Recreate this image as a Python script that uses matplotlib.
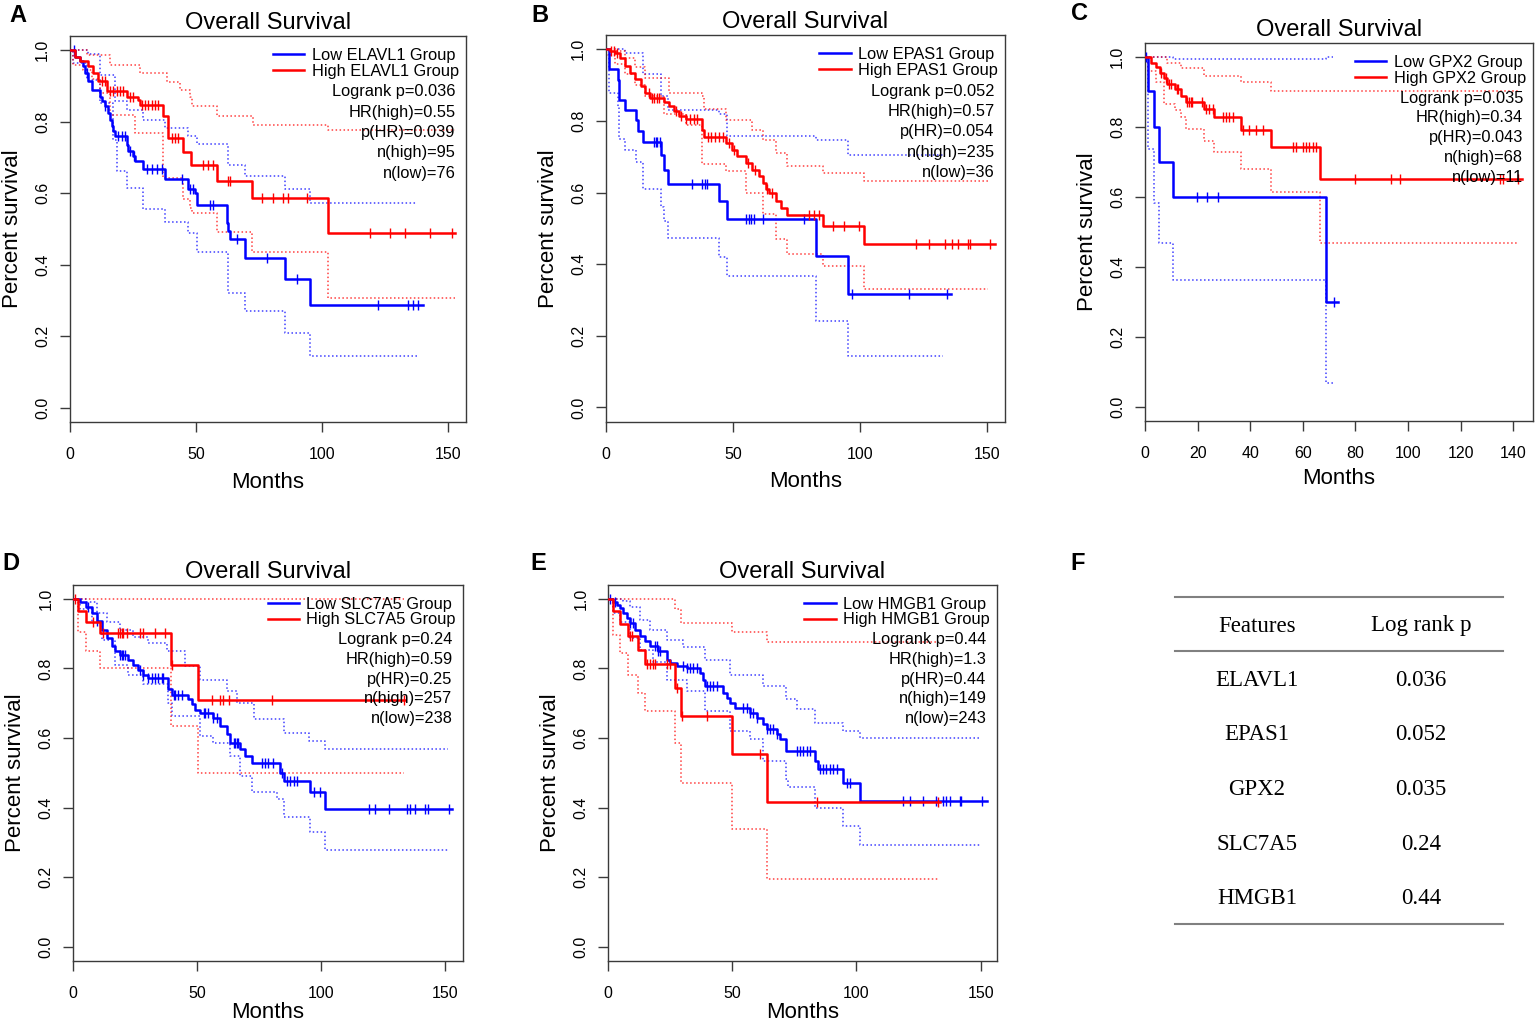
import numpy as np
import matplotlib
matplotlib.use('Agg')
import matplotlib.pyplot as plt

plt.rcParams['font.family'] = ['Liberation Sans', 'DejaVu Sans']

# ---------------- DATA ----------------
genes = ['ELAVL1', 'EPAS1', 'GPX2', 'SLC7A5', 'HMGB1']
logrank_p = ['0.036', '0.052', '0.035', '0.24', '0.44']
hr_high = ['0.55', '0.57', '0.34', '0.59', '1.3']
p_hr = ['0.039', '0.054', '0.043', '0.25', '0.44']
n_high = ['95', '235', '68', '257', '149']
n_low = ['76', '36', '11', '238', '243']
x_ticks_abde = [0, 50, 100, 150]
x_ticks_c = [0, 20, 40, 60, 80, 100, 120, 140]
y_ticks = [0.0, 0.2, 0.4, 0.6, 0.8, 1.0]
x_max = [157, 157, 147.5, 157, 156.5]

# Panel A (ELAVL1)
a_low_t = [0, 2.0, 4.0, 5.3, 5.9, 7.3, 8.6, 11.9, 12.6, 13.9, 15.2, 15.9, 16.5, 17.2, 17.8, 22.5, 23.1, 25.1, 25.8, 29.1,
           37.7, 46.9, 49.6, 50.2, 62.1, 62.8, 63.4, 69.4, 85.2, 95.1]
a_low_s = [1.0, 0.98, 0.97, 0.955, 0.937, 0.913, 0.89, 0.87, 0.858, 0.843, 0.825, 0.806, 0.788, 0.774, 0.76, 0.736, 0.718,
           0.704, 0.69, 0.669, 0.639, 0.611, 0.6, 0.566, 0.518, 0.494, 0.471, 0.42, 0.36, 0.287]
a_low_end = 140.1
a_low_cens = [1.5, 6.6, 13.9, 19.2, 20.5, 21.8, 23.8, 25.5, 30.4, 32.4, 34.4, 36.4, 44.3, 47.6, 48.9, 55.5, 56.8, 66.1,
              78.0, 89.9, 122.2, 134.1, 136.1, 138.1]
a_high_t = [0, 2.0, 4.0, 7.3, 9.3, 11.2, 14.5, 22.5, 27.1, 27.8, 37.0, 39.0, 44.9, 47.8, 58.1, 72.0, 102.2]
a_high_s = [1.0, 0.98, 0.97, 0.955, 0.937, 0.913, 0.885, 0.87, 0.86, 0.848, 0.817, 0.755, 0.715, 0.678, 0.634, 0.586, 0.49]
a_high_end = 152.6
a_high_cens = [12.6, 13.9, 15.9, 17.2, 18.5, 19.8, 21.1, 23.8, 25.1, 28.5, 29.8, 31.1, 32.4, 33.7, 35.0, 40.3, 41.6, 43.0,
               52.9, 54.9, 56.5, 62.8, 63.4, 76.0, 80.6, 84.6, 86.6, 93.8, 118.9, 126.9, 132.8, 142.7, 151.3]
a_high_up_t = [0, 6.6, 15.9, 27.8, 38.3, 43.6, 47.6, 48.2, 58.1, 72.7, 102.2]
a_high_up_s = [1.0, 0.988, 0.96, 0.937, 0.91, 0.89, 0.87, 0.845, 0.817, 0.79, 0.778]
a_high_lo_t = [0, 1.3, 5.3, 8.6, 11.9, 15.9, 25.8, 37.0, 44.9, 47.6, 48.2, 58.1, 72.0, 102.2]
a_high_lo_s = [1.0, 0.96, 0.946, 0.92, 0.88, 0.82, 0.77, 0.643, 0.583, 0.56, 0.545, 0.493, 0.436, 0.308]
a_low_up_t = [0, 7.3, 11.9, 17.8, 22.5, 29.1, 37.7, 46.9, 50.2, 62.8, 69.4, 85.2, 95.1]
a_low_up_s = [1.0, 0.99, 0.93, 0.858, 0.834, 0.806, 0.783, 0.76, 0.739, 0.68, 0.648, 0.611, 0.572]
a_low_lo_t = [0, 1.3, 6.6, 11.9, 17.2, 18.5, 22.5, 29.1, 37.7, 46.9, 50.2, 62.8, 69.4, 85.2, 95.1]
a_low_lo_s = [1.0, 0.965, 0.918, 0.853, 0.75, 0.662, 0.615, 0.555, 0.52, 0.49, 0.436, 0.322, 0.27, 0.21, 0.145]
a_ci_end = [137.4, 152.6]

# Panel B (EPAS1)
b_low_t = [0, 1.3, 4.7, 5.3, 7.4, 11.8, 12.6, 14.6, 21.8, 22.8, 24.5, 44.5, 47.8, 82.6, 95.1]
b_low_s = [1.0, 0.944, 0.914, 0.858, 0.83, 0.804, 0.772, 0.741, 0.704, 0.664, 0.625, 0.576, 0.527, 0.422, 0.317]
b_low_end = 135.9
b_low_cens = [18.8, 19.5, 20.1, 21.1, 33.9, 37.9, 38.9, 39.9, 55.0, 56.1, 57.1, 58.2, 61.6, 78.0, 96.8, 119.2, 134.2]
b_high_t = [0, 1.7, 3.7, 5.7, 7.6, 9.6, 11.6, 13.6, 15.5, 17.5, 22.8, 24.7, 26.7, 28.7, 31.3, 37.9, 38.6, 47.1, 49.7,
            51.7, 55.0, 57.6, 60.3, 61.6, 62.9, 64.2, 66.8, 68.8, 71.4, 85.3, 101.7]
b_high_s = [1.0, 0.995, 0.99, 0.977, 0.953, 0.935, 0.916, 0.897, 0.879, 0.865, 0.853, 0.842, 0.828, 0.815, 0.806, 0.776,
            0.756, 0.739, 0.72, 0.702, 0.683, 0.663, 0.646, 0.627, 0.609, 0.6, 0.576, 0.557, 0.536, 0.506, 0.455]
b_high_end = 153.0
b_high_cens = [2.0, 3.0, 4.5, 17.0, 18.0, 19.0, 20.0, 21.0, 27.5, 29.5, 31.5, 33.0, 34.5, 36.0, 40.0, 41.5, 43.0, 44.5,
               46.0, 48.5, 50.5, 56.0, 58.5, 63.5, 65.5, 80.0, 82.0, 84.0, 89.2, 93.8, 99.7, 122.0, 127.0, 133.3, 136.0,
               138.6, 142.5, 143.2, 151.0]
b_high_up_t = [0, 3.7, 7.6, 11.6, 15.5, 24.7, 37.9, 38.6, 47.1, 57.6, 61.6, 66.8, 71.4, 85.3, 101.7]
b_high_up_s = [1.0, 0.995, 0.975, 0.95, 0.92, 0.878, 0.87, 0.832, 0.804, 0.776, 0.748, 0.71, 0.674, 0.655, 0.632]
b_high_lo_t = [0, 3.7, 7.6, 11.6, 15.5, 22.8, 31.3, 37.9, 47.1, 55.0, 61.6, 66.8, 71.4, 85.3, 101.7]
b_high_lo_s = [0.985, 0.96, 0.93, 0.9, 0.87, 0.82, 0.79, 0.68, 0.66, 0.6, 0.54, 0.47, 0.427, 0.394, 0.33]
b_low_up_t = [0, 7.4, 14.6, 21.8, 24.5, 44.5, 47.8, 82.6, 95.1]
b_low_up_s = [1.0, 0.99, 0.93, 0.87, 0.83, 0.82, 0.757, 0.748, 0.706]
b_low_lo_t = [0, 1.3, 4.7, 5.3, 7.4, 11.8, 14.6, 21.8, 22.8, 24.5, 44.5, 47.8, 82.6, 95.1]
b_low_lo_s = [1.0, 0.879, 0.84, 0.75, 0.72, 0.685, 0.61, 0.56, 0.52, 0.473, 0.42, 0.368, 0.24, 0.143]
b_ci_end = [132.6, 150.5]

# Panel C (GPX2)
c_low_t = [0, 1.27, 3.43, 5.34, 10.67, 68.9]
c_low_s = [1.0, 0.904, 0.8, 0.7, 0.6, 0.3]
c_low_end = 73.3
c_low_cens = [0.5, 19.7, 23.5, 27.6, 72.0]
c_high_t = [0, 2.2, 4.3, 5.6, 7.2, 8.5, 11.4, 13.6, 15.5, 22.5, 26.3, 36.5, 47.9, 66.6]
c_high_s = [1.0, 0.985, 0.971, 0.955, 0.94, 0.923, 0.909, 0.89, 0.873, 0.852, 0.828, 0.792, 0.744, 0.651]
c_high_end = 143.2
c_high_cens = [6.0, 7.9, 9.1, 9.8, 12.3, 12.7, 16.1, 16.8, 17.4, 18.0, 21.8, 23.1, 24.4, 25.7, 29.5, 30.7, 32.0, 33.3,
               37.1, 39.6, 42.2, 44.7, 56.2, 57.4, 59.9, 61.2, 62.5, 63.8, 65.0, 79.7, 93.6, 96.8, 134.9, 136.2, 141.9]
c_high_up_t = [0, 8.5, 13.6, 22.5, 36.5, 47.9]
c_high_up_s = [1.0, 0.985, 0.97, 0.947, 0.93, 0.904]
c_high_lo_t = [0, 1.0, 4.3, 7.2, 11.4, 13.6, 15.5, 22.5, 26.3, 36.5, 47.9, 66.6]
c_high_lo_s = [1.0, 0.96, 0.93, 0.866, 0.85, 0.828, 0.794, 0.761, 0.729, 0.681, 0.614, 0.469]
c_low_up_t = [0, 10.67, 68.9]
c_low_up_s = [1.0, 0.995, 1.0]
c_low_lo_t = [0, 1.27, 3.43, 5.34, 10.67, 68.9]
c_low_lo_s = [1.0, 0.737, 0.584, 0.469, 0.362, 0.067]
c_ci_end = [71.5, 141.9]

# Panel D (SLC7A5)
d_low_t = [0, 2.7, 5.1, 7.4, 9.4, 11.4, 13.5, 15.5, 16.8, 18.8, 22.2, 24.2, 26.2, 28.3, 30.3, 38.3, 39.7, 46.4, 47.8,
           49.1, 51.1, 56.5, 59.2, 61.9, 63.2, 67.3, 69.3, 72.0, 83.4, 84.8, 95.5, 101.6]
d_low_s = [1.0, 0.992, 0.978, 0.959, 0.937, 0.911, 0.887, 0.864, 0.849, 0.84, 0.825, 0.811, 0.797, 0.782, 0.773, 0.74,
           0.725, 0.711, 0.697, 0.682, 0.673, 0.658, 0.635, 0.611, 0.587, 0.568, 0.549, 0.527, 0.501, 0.477, 0.444, 0.396]
d_low_end = 152.7
d_low_cens = [6.1, 9.4, 18.8, 19.5, 20.2, 20.8, 26.9, 28.3, 30.3, 31.6, 33.0, 34.3, 35.7, 36.3, 40.4, 41.0, 42.4, 43.7,
              52.5, 53.1, 54.5, 56.5, 57.9, 64.6, 65.3, 65.9, 66.6, 76.0, 77.4, 78.7, 80.7, 84.1, 86.1, 87.4, 88.8, 90.1,
              96.9, 99.6, 119.1, 121.7, 127.1, 134.5, 135.9, 137.9, 141.9, 142.9, 151.4]
d_high_t = [0, 2.0, 5.1, 10.8, 39.3, 50.2]
d_high_s = [1.0, 0.964, 0.933, 0.902, 0.81, 0.709]
d_high_end = 133.9
d_high_cens = [0.7, 8.1, 12.1, 18.2, 18.8, 19.5, 20.2, 21.5, 26.9, 28.0, 33.0, 37.0, 39.7, 55.8, 59.2, 60.5, 62.6, 80.0,
               133.2]
d_high_up_t = [0]
d_high_up_s = [1.0]
d_high_lo_t = [0, 2.0, 5.1, 10.8, 39.3, 50.2]
d_high_lo_s = [1.0, 0.906, 0.849, 0.801, 0.636, 0.499]
d_low_up_t = [0, 5.1, 9.4, 13.5, 18.8, 24.2, 30.3, 37.7, 45.1, 51.1, 61.9, 65.9, 72.7, 84.8, 94.9, 101.6]
d_low_up_s = [1.0, 0.99, 0.959, 0.935, 0.911, 0.89, 0.873, 0.849, 0.806, 0.768, 0.735, 0.701, 0.654, 0.615, 0.592, 0.568]
d_low_lo_t = [0, 2.7, 7.4, 11.4, 16.8, 22.2, 28.3, 38.3, 39.7, 51.1, 56.5, 63.2, 67.3, 72.0, 82.1, 84.8, 95.5, 101.6]
d_low_lo_s = [1.0, 0.97, 0.93, 0.883, 0.811, 0.782, 0.754, 0.701, 0.663, 0.606, 0.587, 0.549, 0.491, 0.444, 0.425,
              0.372, 0.329, 0.277]
d_ci_end = [151.0, 133.2]

# Panel E (HMGB1)
e_low_t = [0, 2.0, 3.4, 4.7, 6.0, 7.4, 8.7, 10.7, 12.8, 14.8, 16.8, 20.1, 23.5, 24.8, 27.5, 31.6, 36.9, 38.3, 38.9, 46.3,
           47.7, 49.0, 51.0, 57.1, 59.8, 62.4, 63.8, 67.8, 69.2, 71.8, 83.3, 84.6, 94.7, 101.4]
e_low_s = [1.0, 0.992, 0.983, 0.973, 0.959, 0.945, 0.93, 0.911, 0.892, 0.878, 0.864, 0.849, 0.825, 0.816, 0.808, 0.802,
           0.787, 0.768, 0.749, 0.73, 0.716, 0.702, 0.687, 0.673, 0.659, 0.64, 0.625, 0.611, 0.597, 0.563, 0.535, 0.51,
           0.472, 0.42]
e_low_end = 152.4
e_low_cens = [0.7, 2.7, 8.7, 10.1, 18.8, 19.5, 20.1, 20.8, 30.2, 31.6, 32.9, 34.2, 35.6, 39.6, 41.0, 42.3, 43.7, 54.4,
              55.7, 57.1, 58.4, 59.8, 63.8, 65.1, 66.5, 67.8, 75.9, 77.2, 78.6, 79.9, 81.2, 85.3, 86.6, 87.9, 89.3, 90.6,
              92.0, 96.0, 97.4, 118.8, 121.5, 126.8, 132.2, 134.9, 136.2, 137.6, 141.6, 142.3, 150.4]
e_high_t = [0, 1.7, 4.7, 8.1, 12.1, 14.8, 26.9, 29.1, 50.0, 63.8]
e_high_s = [1.0, 0.964, 0.927, 0.892, 0.854, 0.813, 0.744, 0.663, 0.553, 0.415]
e_high_end = 133.6
e_high_cens = [8.7, 9.4, 15.5, 16.8, 18.1, 18.8, 23.5, 24.8, 27.5, 29.5, 39.6, 61.1, 83.9, 132.9]
e_high_up_t = [0, 26.9, 29.1, 50.0, 63.8]
e_high_up_s = [1.0, 0.97, 0.93, 0.904, 0.877]
e_high_lo_t = [0, 1.7, 4.7, 8.1, 12.1, 14.8, 26.9, 29.1, 50.0, 63.8]
e_high_lo_s = [1.0, 0.897, 0.845, 0.782, 0.73, 0.677, 0.587, 0.472, 0.339, 0.196]
e_low_up_t = [0, 6.0, 8.7, 12.8, 16.8, 23.5, 30.2, 38.9, 49.0, 62.4, 71.8, 76.0, 83.3, 94.7, 101.4]
e_low_up_s = [1.0, 0.995, 0.978, 0.94, 0.911, 0.882, 0.863, 0.825, 0.782, 0.749, 0.711, 0.683, 0.644, 0.62, 0.599]
e_low_lo_t = [0, 2.0, 4.7, 8.7, 12.8, 18.0, 23.5, 31.6, 38.9, 49.0, 57.1, 62.4, 71.8, 72.5, 83.3, 94.7, 101.4]
e_low_lo_s = [1.0, 0.96, 0.935, 0.887, 0.854, 0.82, 0.768, 0.735, 0.677, 0.62, 0.596, 0.534, 0.482, 0.458, 0.40,
              0.348, 0.293]
e_ci_end = [150.0, 132.9]

# Table F
table_features = ['ELAVL1', 'EPAS1', 'GPX2', 'SLC7A5', 'HMGB1']
table_pvalues = ['0.036', '0.052', '0.035', '0.24', '0.44']

# ---------------- PLOTTING ----------------
W, H = 1535, 1027
fig = plt.figure(figsize=(W / 100, H / 100), dpi=100)
fig.patch.set_facecolor('white')

# axes boxes in pixels (left, top, right, bottom)
boxes = [(70, 36, 466, 422), (606, 35, 1005, 421.7), (1145, 43.3, 1533, 420.7),
         (73.3, 585, 462.7, 960.7), (608.3, 585, 996.7, 960.7)]
xlabel_offsets = [49.5, 49.5, 47.5, 41.5, 41.5]

panels = [
    dict(low=(a_low_t, a_low_s, a_low_end, a_low_cens), high=(a_high_t, a_high_s, a_high_end, a_high_cens),
         low_ci=(a_low_up_t, a_low_up_s, a_low_lo_t, a_low_lo_s, a_ci_end[0]),
         high_ci=(a_high_up_t, a_high_up_s, a_high_lo_t, a_high_lo_s, a_ci_end[1]), xt=x_ticks_abde),
    dict(low=(b_low_t, b_low_s, b_low_end, b_low_cens), high=(b_high_t, b_high_s, b_high_end, b_high_cens),
         low_ci=(b_low_up_t, b_low_up_s, b_low_lo_t, b_low_lo_s, b_ci_end[0]),
         high_ci=(b_high_up_t, b_high_up_s, b_high_lo_t, b_high_lo_s, b_ci_end[1]), xt=x_ticks_abde),
    dict(low=(c_low_t, c_low_s, c_low_end, c_low_cens), high=(c_high_t, c_high_s, c_high_end, c_high_cens),
         low_ci=(c_low_up_t, c_low_up_s, c_low_lo_t, c_low_lo_s, c_ci_end[0]),
         high_ci=(c_high_up_t, c_high_up_s, c_high_lo_t, c_high_lo_s, c_ci_end[1]), xt=x_ticks_c),
    dict(low=(d_low_t, d_low_s, d_low_end, d_low_cens), high=(d_high_t, d_high_s, d_high_end, d_high_cens),
         low_ci=(d_low_up_t, d_low_up_s, d_low_lo_t, d_low_lo_s, d_ci_end[0]),
         high_ci=(d_high_up_t, d_high_up_s, d_high_lo_t, d_high_lo_s, d_ci_end[1]), xt=x_ticks_abde),
    dict(low=(e_low_t, e_low_s, e_low_end, e_low_cens), high=(e_high_t, e_high_s, e_high_end, e_high_cens),
         low_ci=(e_low_up_t, e_low_up_s, e_low_lo_t, e_low_lo_s, e_ci_end[0]),
         high_ci=(e_high_up_t, e_high_up_s, e_high_lo_t, e_high_lo_s, e_ci_end[1]), xt=x_ticks_abde),
]

BLUE = '#0000FF'
RED = '#FF0000'
SPINE = '#3a3a3a'
SMALL = 11.8


def step_with_end(t, s, end):
    return list(t) + [end], list(s) + [s[-1]]


def value_at(t, s, x):
    idx = np.searchsorted(np.asarray(t), np.asarray(x), side='right') - 1
    return np.asarray(s)[idx]


def draw_group(ax, curve, ci, color):
    up_t, up_s, lo_t, lo_s, ci_end = ci
    for tt, ss in ((up_t, up_s), (lo_t, lo_s)):
        x, y = step_with_end(tt, ss, ci_end)
        ax.step(x, y, where='post', color=color, lw=1.1, alpha=0.75,
                linestyle=(0, (1, 1.6)), zorder=2)
    t, s, end, cens = curve
    x, y = step_with_end(t, s, end)
    line, = ax.step(x, y, where='post', color=color, lw=1.8, zorder=3)
    ax.plot(cens, value_at(t, s, cens), linestyle='none', marker='|', ms=7.5, mew=1.0,
            color=color, zorder=3)
    return line


for i, (p, box) in enumerate(zip(panels, boxes)):
    l, t_, r, b = box
    ax = fig.add_axes([l / W, 1 - b / H, (r - l) / W, (b - t_) / H])
    hl = draw_group(ax, p['low'], p['low_ci'], BLUE)
    hh = draw_group(ax, p['high'], p['high_ci'], RED)
    ax.set_xlim(0, x_max[i])
    ax.set_ylim(-0.04, 1.04)
    ax.set_xticks(p['xt'])
    ax.set_yticks(y_ticks)
    ax.set_yticklabels(['%.1f' % v for v in y_ticks], rotation=90, va='center')
    ax.tick_params(direction='out', length=7, width=1.0, color=SPINE, labelsize=11.5)
    ax.tick_params(axis='x', pad=11.0)
    ax.tick_params(axis='y', pad=7.3)
    for sp in ax.spines.values():
        sp.set_color(SPINE)
        sp.set_linewidth(1.0)
    ax.set_title('Overall Survival', fontsize=17, pad=5)
    ax.set_xlabel('Months', fontsize=16)
    ax.set_ylabel('Percent survival', fontsize=16)
    bw, bh = r - l, b - t_
    ax.xaxis.set_label_coords(0.5, -xlabel_offsets[i] / bh)
    ax.yaxis.set_label_coords(-47.4 / bw, 0.5)
    ax.legend([hl, hh], ['Low %s Group' % genes[i], 'High %s Group' % genes[i]],
              loc='upper right', bbox_to_anchor=(0.982, 0.969), frameon=False, fontsize=SMALL,
              handlelength=1.9, handletextpad=0.45, labelspacing=0.05, borderpad=0, borderaxespad=0)
    stats = ['Logrank p=%s' % logrank_p[i], 'HR(high)=%s' % hr_high[i], 'p(HR)=%s' % p_hr[i],
             'n(high)=%s' % n_high[i], 'n(low)=%s' % n_low[i]]
    for k, txt in enumerate(stats):
        ax.text(0.974, 1 - (0.145 + 0.0527 * k), txt, transform=ax.transAxes, ha='right', va='center',
                fontsize=SMALL, zorder=4)

# overlay for letters and the table
ov = fig.add_axes([0, 0, 1, 1], facecolor='none')
ov.set_xlim(0, W)
ov.set_ylim(H, 0)
ov.axis('off')
for letter, (lx, ly) in zip('ABCDEF', [(17.5, 16), (540, 15), (1080, 14), (11, 563), (538, 563), (1078, 563)]):
    ov.text(lx, ly, letter, fontsize=17, fontweight='bold', ha='center', va='center')

x0, x1 = 1175, 1503
for yy in (597, 651, 924):
    ov.plot([x0, x1], [yy, yy], color='#808080', lw=1.5)
serif = ['Liberation Serif', 'DejaVu Serif']
ov.text(1257, 626, 'Features', ha='center', va='center', fontsize=16.5, family=serif)
ov.text(1421, 626, 'Log rank p', ha='center', va='center', fontsize=16.5, family=serif)
for k, (f, pv) in enumerate(zip(table_features, table_pvalues)):
    yy = 680 + 54.75 * k
    ov.text(1257, yy, f, ha='center', va='center', fontsize=16.5, family=serif)
    ov.text(1421, yy, pv, ha='center', va='center', fontsize=16.5, family=serif)

fig.savefig('out.png', dpi=100)
